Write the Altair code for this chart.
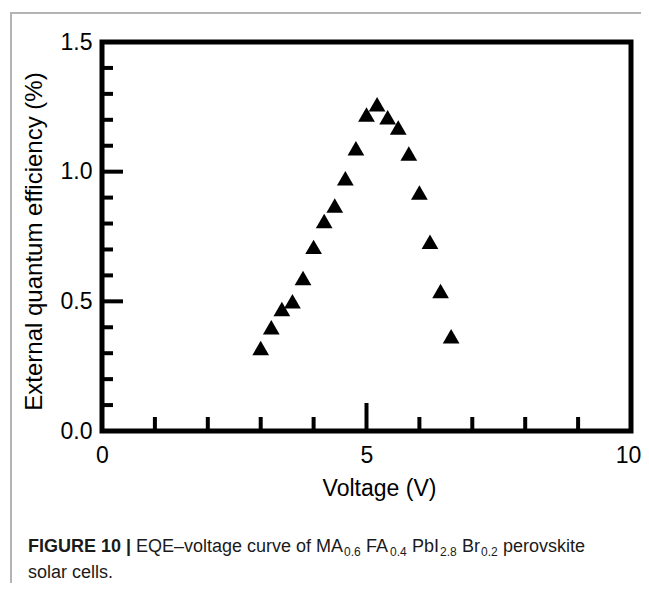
import altair as alt
import pandas as pd

# Data
voltage = [3.0, 3.2, 3.4, 3.6, 3.8, 4.0, 4.2, 4.4, 4.6, 4.8, 5.0, 5.2, 5.4, 5.6, 5.8, 6.0, 6.2, 6.4, 6.6]
eqe = [0.32, 0.40, 0.47, 0.50, 0.59, 0.71, 0.81, 0.87, 0.975, 1.09, 1.22, 1.26, 1.21, 1.17, 1.07, 0.92, 0.73, 0.54, 0.365]

x_minor_ticks = [1, 2, 3, 4, 6, 7, 8, 9]
x_major_ticks = [5]
y_minor_ticks = [0.1, 0.2, 0.3, 0.4, 0.6, 0.7, 0.8, 0.9, 1.1, 1.2, 1.3, 1.4]
y_major_ticks = [0.5, 1.0]

x_labels = [0, 5, 10]
y_labels = [0.0, 0.5, 1.0, 1.5]

caption_text = ["FIGURE 10 |", "EQE\u2013voltage curve of MA", "0.6", "FA", "0.4", "PbI", "2.8", "Br", "0.2", "perovskite", "solar cells."]
caption_x = [28, 136, 344, 366, 390, 412, 440, 462, 481, 503, 28]
caption_base = [552, 552, 556, 552, 556, 552, 556, 552, 556, 552, 578]
caption_size = [18, 18, 12, 18, 12, 18, 12, 18, 12, 18, 18]
caption_weight = ["bold"] + ["normal"] * 10

FONT = "Liberation Sans"
W, H = 529, 389
OX, OY = 102, 42  # plot origin on page

df = pd.DataFrame({"voltage": voltage, "eqe": eqe})

xscale = alt.Scale(domain=[0, 10], nice=False, zero=False)
yscale = alt.Scale(domain=[0, 1.5], nice=False, zero=False)

points = alt.Chart(df).mark_point(
    shape="triangle-up", filled=True, color="black", size=280, opacity=1
).encode(
    x=alt.X("voltage:Q", scale=xscale, axis=alt.Axis(
        values=x_labels, format="d", title="Voltage (V)", domain=False, ticks=False, grid=False,
        labelFontSize=23, labelFont=FONT, labelColor="black", labelPadding=13,
        labelOffset=alt.condition("datum.value == 10", alt.value(-3), alt.value(0)),
        titleFontSize=23, titleFont=FONT, titleFontWeight="normal", titleColor="black",
        titleX=277, titleY=46, titleBaseline="top", titleAlign="center",
        labelFlush=False,
    )),
    y=alt.Y("eqe:Q", scale=yscale, axis=alt.Axis(
        values=y_labels, format=".1f", title="External quantum efficiency (%)", domain=False,
        ticks=False, grid=False,
        labelFontSize=23, labelFont=FONT, labelColor="black", labelPadding=10,
        titleFontSize=24, titleFont=FONT, titleFontWeight="normal", titleColor="black",
        titleX=-61, titleY=199, titleAngle=270, titleBaseline="alphabetic", titleAlign="center",
        labelFlush=False,
    )),
)

xmin_df = pd.DataFrame({"v": x_minor_ticks})
xmaj_df = pd.DataFrame({"v": x_major_ticks})
ymin_df = pd.DataFrame({"v": y_minor_ticks})
ymaj_df = pd.DataFrame({"v": y_major_ticks})

xminor = alt.Chart(xmin_df).mark_rule(color="black", strokeWidth=4).encode(
    x=alt.X("v:Q", scale=xscale), y=alt.value(H), y2=alt.value(H - 14))
xmajor = alt.Chart(xmaj_df).mark_rule(color="black", strokeWidth=4).encode(
    x=alt.X("v:Q", scale=xscale), y=alt.value(H), y2=alt.value(H - 28))
yminor = alt.Chart(ymin_df).mark_rule(color="black", strokeWidth=4).encode(
    y=alt.Y("v:Q", scale=yscale), x=alt.value(0), x2=alt.value(11))
ymajor = alt.Chart(ymaj_df).mark_rule(color="black", strokeWidth=4).encode(
    y=alt.Y("v:Q", scale=yscale), x=alt.value(0), x2=alt.value(21))

# gray page frame (top and left), kept inside the drawing
frame_top = alt.Chart(pd.DataFrame({"a": [0]})).mark_rule(color="#b4b4b4", strokeWidth=2).encode(
    x=alt.value(10 - OX), x2=alt.value(641 - OX), y=alt.value(13 - OY))
frame_left = alt.Chart(pd.DataFrame({"a": [0]})).mark_rule(color="#b4b4b4", strokeWidth=2).encode(
    x=alt.value(11 - OX), y=alt.value(13 - OY), y2=alt.value(583 - OY))

cap_df = pd.DataFrame({
    "t": caption_text,
    "px": [v - OX for v in caption_x],
    "py": [v - OY for v in caption_base],
})

cap_layers = []
for i in range(len(caption_text)):
    sub = cap_df.iloc[[i]]
    cap_layers.append(
        alt.Chart(sub).mark_text(
            align="left", baseline="alphabetic", font=FONT, color="#1a1a1a",
            fontSize=int(caption_size[i]), fontWeight=caption_weight[i]
        ).encode(
            x=alt.X("px:Q", scale=None), y=alt.Y("py:Q", scale=None), text="t:N"
        )
    )

chart = alt.layer(
    frame_top, frame_left, xminor, xmajor, yminor, ymajor, points, *cap_layers
).properties(
    width=W, height=H,
    background="white",
    autosize=alt.AutoSizeParams(type="none"),
    padding={"left": 94, "top": 34, "right": 10, "bottom": 152},
).configure_view(
    stroke="black", strokeWidth=5
)

chart.save("out.html", embed_options={"renderer": "svg", "actions": False})
